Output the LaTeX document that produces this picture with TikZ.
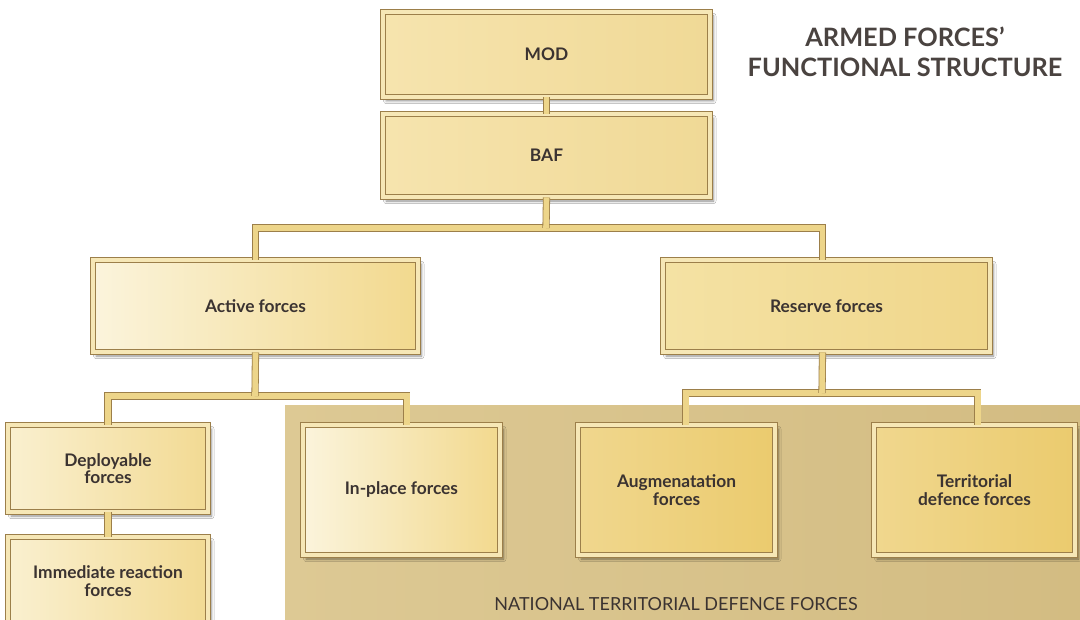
\documentclass[tikz,border=0pt]{standalone}
\usepackage{fontspec}
\setmainfont{Lato}
\usetikzlibrary{shadows,shadows.blur}
\definecolor{txt}{HTML}{3B3331}
\definecolor{ttl}{HTML}{4A4340}
\definecolor{rimdark}{HTML}{9C7F4A}
\definecolor{rimlight}{HTML}{F6E7B6}
\definecolor{connfill}{HTML}{EDD58A}
\definecolor{ntdfA}{HTML}{DDC994}
\definecolor{ntdfB}{HTML}{D3BC82}
\definecolor{modA}{HTML}{F6E4AE}
\definecolor{modB}{HTML}{F0D996}
\definecolor{actA}{HTML}{FBF4DC}
\definecolor{actB}{HTML}{F2D98E}
\definecolor{resA}{HTML}{F4E2A4}
\definecolor{resB}{HTML}{F0D68A}
\definecolor{depA}{HTML}{FAF0D0}
\definecolor{depB}{HTML}{F2DA93}
\definecolor{augA}{HTML}{F0D78E}
\definecolor{augB}{HTML}{EBCB6E}
\begin{document}
\begin{tikzpicture}[x=0.75pt,y=-0.75pt,
  box/.style={draw=rimdark, line width=0.7pt, double=rimlight, double distance=2.6pt,
    font=\bfseries\fontsize{13}{13}\selectfont, text=txt, align=center, inner sep=2pt,
    blur shadow={shadow xshift=2.5pt, shadow yshift=-3pt, shadow blur steps=6, shadow opacity=45}},
  conn/.style={draw=rimdark, line width=0.6pt, double=connfill, double distance=4.2pt},
  ntdf/.style={left color=ntdfA, right color=ntdfB, draw=none},
]
\useasboundingbox (0,0) rectangle (1080,620);
\fill[white] (0,0) rectangle (1080,620);

% national territorial defence area
\node[ntdf, minimum width=596.25pt, minimum height=161.25pt, inner sep=0pt] (ntdf) at (682.5,512.5) {};
\node[font=\fontsize{13.5}{14}\selectfont, text=txt] (ntdflabel) at (676,604) {NATIONAL TERRITORIAL DEFENCE FORCES};

% title
\node[font=\bfseries\fontsize{19}{22.5}\selectfont, text=ttl, align=center] (title) at (905,52) {ARMED FORCES’\\FUNCTIONAL STRUCTURE};

% boxes
\node[box, left color=modA, right color=modB, minimum width=245.25pt, minimum height=63.75pt] (mod) at (546.5,54.5) {MOD};
\node[box, left color=modA, right color=modB, minimum width=245.25pt, minimum height=62.25pt] (baf) at (546.5,155.5) {BAF};
\node[box, left color=actA, right color=actB, minimum width=243.75pt, minimum height=69pt] (active) at (255.5,306) {Active forces};
\node[box, left color=resA, right color=resB, minimum width=245.25pt, minimum height=69pt] (reserve) at (826.5,306) {Reserve forces};
\node[box, left color=depA, right color=depB, minimum width=150pt, minimum height=65.25pt] (deploy) at (108,468.5) {Deployable\\forces};
\node[box, left color=depA, right color=depB, minimum width=150pt, minimum height=66pt] (immed) at (108,581) {Immediate reaction\\forces};
\node[box, left color=actA, right color=actB, minimum width=147.75pt, minimum height=97.5pt] (inplace) at (401.5,490) {In-place forces};
\node[box, left color=augA, right color=augB, minimum width=147.75pt, minimum height=97.5pt] (augment) at (676.5,490) {Augmenatation\\forces};
\node[box, left color=augA, right color=augB, minimum width=150.75pt, minimum height=97.5pt] (territ) at (974.5,490) {Territorial\\defence forces};

% connectors
\draw[conn] (mod.south) -- (baf.north);
\draw[conn] (active.north) |- (546,228) -| ([xshift=-3pt]reserve.north);
\draw[conn] (baf.south) -- (546,228);
\draw[conn] (deploy.north) |- (255,396) -| ([xshift=4pt]inplace.north);
\draw[conn] (active.south) -- (255,396);
\draw[conn] ([xshift=7pt]augment.north) |- (822,393) -| ([xshift=2.5pt]territ.north);
\draw[conn] ([xshift=-3pt]reserve.south) -- (822,393);
\draw[conn] (deploy.south) -- (immed.north);
\end{tikzpicture}
\end{document}
